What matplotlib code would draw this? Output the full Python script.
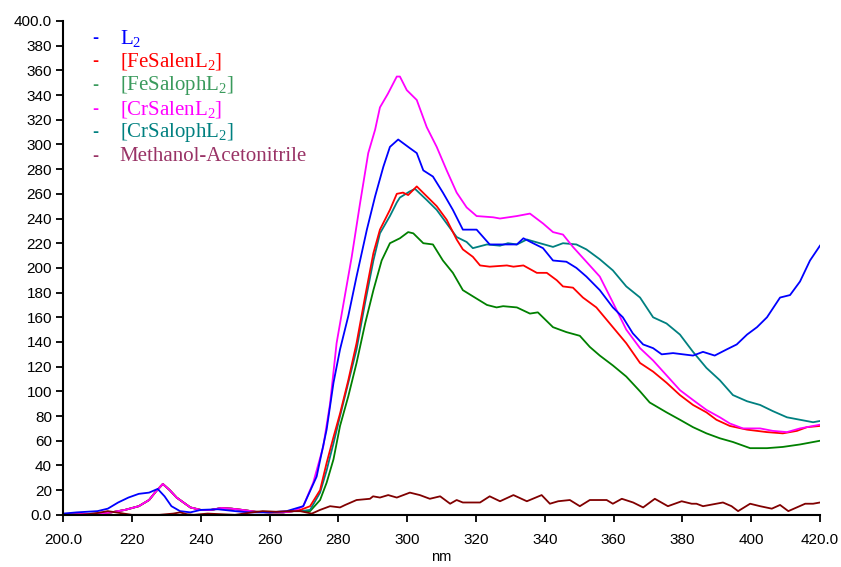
import numpy as np
import matplotlib.pyplot as plt

# wavelength (nm) / absorbance-ish readings
low_x = [200, 205, 210, 214, 218, 222, 225, 227, 229, 231, 233, 235, 237, 240, 243, 246, 249, 252, 256, 260, 264, 267]
low_y = [0, 0.5, 1, 2, 4, 7, 12, 19, 25, 20, 14, 10, 6, 4, 4, 5.5, 5, 4, 2.5, 2, 2, 3]

l2_x = [200, 204, 210, 213, 216, 219, 222, 225, 227.5, 229.5, 231.5, 234, 237, 240, 245, 250, 254, 260, 265, 269.8,
        273.7, 276.6, 278.6, 280.5, 282.9, 285.3, 288.3, 290.7, 293.1, 295, 297.4, 300.8, 302.8, 304.7, 307.5,
        310.4, 313.3, 316.2, 319.1, 320.2, 324, 327.9, 331.9, 333.8, 336.6, 339.5, 342.4, 346.3, 349.2, 352.1,
        356, 359.8, 362.7, 365.6, 368.6, 371.5, 374, 377.3, 383.1, 386, 389.4, 392.9, 395.8, 398.8, 401.7, 404.6,
        408.4, 411.3, 414.2, 417.1, 420]
l2_y = [1, 2, 3, 5, 10, 14, 17, 18, 21, 15, 7, 3, 2, 4, 4.5, 3, 2, 2, 3, 7,
        31, 69, 107, 134, 161, 193, 231, 258, 282, 298, 304, 297, 293, 279, 274,
        261, 247, 231, 231, 231, 219, 219, 219, 224, 220, 216, 206, 205, 200, 193,
        182, 168, 160, 147, 138, 135, 130, 131, 129, 132, 129, 134, 138, 146, 152, 160,
        176, 178, 189, 206, 218]

fesalen_x = [269, 271.8, 274.7, 276.6, 278.6, 280.5, 282.9, 285.3, 287.8, 290.2, 292.1, 295, 297, 298.8, 300.3,
             302.8, 305.7, 308.6, 311.5, 314.4, 316.2, 319.1, 321.2, 324, 329, 330.9, 333.8, 337.7, 340.6, 343.5,
             345.3, 348.2, 351.1, 355, 359.8, 363.7, 367.7, 371.5, 375.4, 379.3, 383.1, 387, 389.9, 393.8, 398.8,
             404.6, 409.2, 413.3, 416.2, 420]
fesalen_y = [4, 7, 20, 42, 63, 82, 109, 139, 177, 212, 231, 247, 260, 261, 259,
             266, 258, 250, 239, 223, 215, 209, 202, 201, 202, 201, 202, 196, 196, 190,
             185, 184, 176, 168, 152, 139, 123, 116, 107, 97, 89, 83, 77, 72, 69,
             67, 66, 68, 71, 72]

fesaloph_x = [269, 271.8, 274.7, 276.6, 278.6, 280.5, 282.9, 285.3, 287.8, 290.2, 292.6, 295, 297.9, 300.3, 301.8,
              304.7, 307.5, 310.4, 313.3, 316.2, 319.1, 323.2, 326, 327.9, 331.9, 335.7, 338, 342.4, 346.3, 350.2,
              353.1, 356, 359.8, 363.7, 367.7, 370.5, 375.4, 379.3, 383.1, 387, 390.9, 394.7, 399.7, 404.6, 409.2,
              414.2, 420]
fesaloph_y = [3, 3, 12, 26, 45, 72, 96, 123, 155, 182, 206, 220, 224, 229, 228,
              220, 219, 206, 196, 182, 177, 170, 168, 169, 168, 163, 164, 152, 148, 145,
              136, 129, 121, 112, 100, 91, 83, 77, 71, 66, 62, 59, 54, 54, 55,
              57, 60]

crsalen_x = [269.8, 272.7, 275.6, 277.6, 279.5, 281.5, 283.9, 286.3, 288.7, 290.7, 292.1, 294.4, 297, 297.9, 299.9,
             302.8, 305.7, 308.6, 311.5, 314.4, 317.3, 320.2, 325, 327, 331.9, 335.7, 339.5, 342.4, 345.3, 348.2,
             352.1, 356, 359.8, 363.7, 367.7, 371.5, 375.4, 379.3, 383.1, 387, 390.9, 393.8, 397.6, 402.6, 406.3,
             410.4, 414.2, 420]
crsalen_y = [7, 26, 55, 90, 139, 171, 209, 252, 293, 312, 330, 341, 355, 355, 344,
             336, 314, 298, 279, 261, 249, 242, 241, 240, 242, 244, 236, 229, 227, 217,
             205, 193, 172, 150, 135, 125, 113, 101, 93, 85, 79, 74, 70, 70, 68,
             67, 70, 73]

crsaloph_x = [269, 271.8, 274.7, 276.6, 278.6, 280.5, 282.9, 285.3, 287.8, 290.2, 292.1, 295, 297, 297.9, 300.8,
              302.3, 305.7, 308.6, 311.5, 314.4, 317.3, 319.1, 323.2, 327, 329.3, 331.9, 334.8, 338.6, 342.4, 345.3,
              349.2, 352.1, 356, 359.8, 363.7, 367.7, 371.5, 375.4, 379.3, 383.1, 387, 390.9, 394.7, 398.8, 402.6,
              406.3, 410.4, 414.2, 418, 420]
crsaloph_y = [3, 4, 18, 36, 58, 80, 107, 134, 172, 206, 228, 242, 253, 257, 262,
              264, 255, 247, 236, 225, 221, 216, 219, 218, 220, 219, 223, 220, 217, 220,
              219, 215, 207, 198, 185, 176, 160, 155, 146, 132, 119, 109, 97, 92, 89,
              84, 79, 77, 75, 76]

solvent_x = [200, 205, 209, 213, 220, 228, 232, 234, 236, 238, 242, 250, 255, 258, 262, 266, 268.9, 272.3, 274.7,
             277.6, 280.5, 282, 285.3, 289.2, 290.1, 292.1, 294.5, 297, 300.8, 303.7, 306.6, 309.6, 312.5, 314.4,
             316.2, 321.2, 324, 327, 330.9, 334.8, 339.1, 341.5, 343.9, 347.3, 350.2, 353.1, 358, 359.8, 362.4,
             365.7, 368.6, 372, 375.8, 379.8, 382.7, 384.1, 386, 391.8, 394.3, 396.2, 399.7, 402.6, 406, 408.4,
             410.8, 415.7, 418, 420]
solvent_y = [0, 0, 1, 3, 0, 0, 1, 2, 0.5, 0, 1, 0, 2, 3, 2.5, 3, 3, 1, 4,
             7, 6, 8, 12, 13, 15, 14, 16, 14, 18, 16, 13, 15, 9, 12,
             10, 10, 15, 11, 16, 11, 16, 9, 11, 12, 7, 12, 12, 9, 13,
             10, 6, 13, 7, 11, 9, 9, 7, 10, 7, 3, 9, 7, 5, 8,
             3, 9, 9, 10]

labels = ["L$_2$", "[FeSalenL$_2$]", "[FeSalophL$_2$]", "[CrSalenL$_2$]", "[CrSalophL$_2$]", "Methanol-Acetonitrile"]
label_colors = ["#0000ff", "#ff0000", "#3a9a5c", "#ff00ff", "#008080", "#993366"]

plt.rcParams["font.family"] = "Liberation Sans"
plt.rcParams["mathtext.default"] = "regular"

fig = plt.figure(figsize=(8.41, 5.67), dpi=100)
ax = fig.add_axes([0.075, 0.092, 0.9, 0.871])

# complexes share the low-wavelength band, then split above ~268 nm
def join(x, y):
    return np.concatenate([low_x, x]), np.concatenate([low_y, y])

ax.plot(*join(fesaloph_x, fesaloph_y), color="#008000", lw=1.3)
ax.plot(*join(crsaloph_x, crsaloph_y), color="#008080", lw=1.3)
ax.plot(*join(fesalen_x, fesalen_y), color="#ff0000", lw=1.3)
ax.plot(*join(crsalen_x, crsalen_y), color="#ff00ff", lw=1.3)
ax.plot(l2_x, l2_y, color="#0000ff", lw=1.3)
ax.plot(solvent_x, solvent_y, color="#800000", lw=1.3)

ax.set_xlim(200, 420)
ax.set_ylim(0, 400)
xt = np.arange(200, 421, 20)
yt = np.arange(0, 401, 20)
ax.set_xticks(xt)
ax.set_xticklabels(["200.0"] + [str(v) for v in xt[1:-1]] + ["420.0"])
ax.set_yticks(yt)
ax.set_yticklabels(["0.0"] + [str(v) for v in yt[1:-1]] + ["400.0"])
ax.tick_params(labelsize=11, length=5, width=1.3, direction="out", pad=3)
ax.tick_params(axis="x", pad=8)
for s in ["top", "right"]:
    ax.spines[s].set_visible(False)
for s in ["left", "bottom"]:
    ax.spines[s].set_linewidth(1.5)
ax.set_xlabel("nm", fontsize=10.5, labelpad=2)

for i, (lab, col) in enumerate(zip(labels, label_colors)):
    yy = 0.965 - i * 0.0478
    ax.text(0.038, yy, "-", color=col, fontsize=13, fontweight="bold", family="Liberation Sans",
            transform=ax.transAxes, va="center")
    ax.text(0.075, yy, lab, color=col, fontsize=15, family="Liberation Serif",
            transform=ax.transAxes, va="center")

plt.savefig("out.png", dpi=100)
